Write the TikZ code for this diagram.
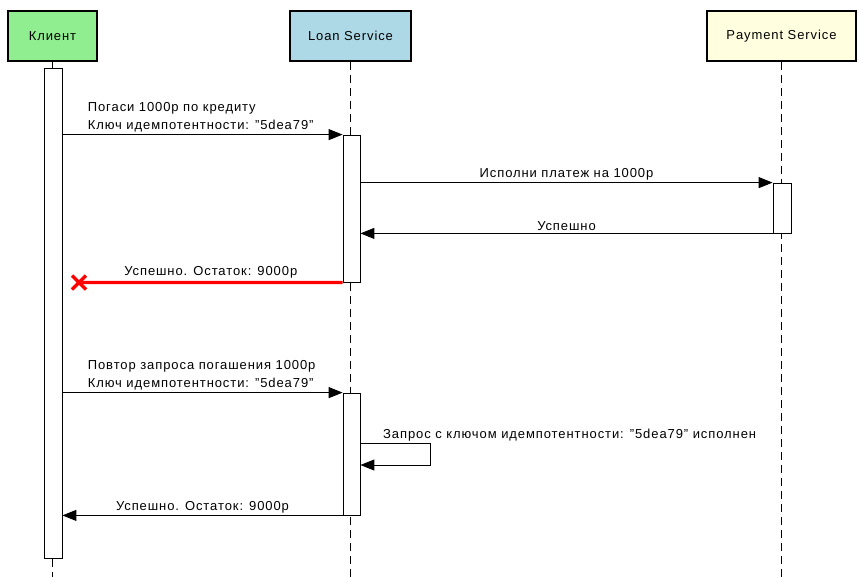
\documentclass[tikz,border=0pt]{standalone}
\usepackage{fontspec}
\setmainfont{Liberation Sans}[LetterSpace=7]
\usepackage{xcolor}
\usetikzlibrary{positioning,arrows.meta}

\definecolor{clientgreen}{HTML}{90EE90}
\definecolor{loanblue}{HTML}{ADD8E6}
\definecolor{payyellow}{HTML}{FFFFE0}
\definecolor{failred}{HTML}{FF0000}

\begin{document}
\begin{tikzpicture}[x=1pt,y=-1pt,
  font=\fontsize{13}{18}\selectfont,
  actor/.style={draw,line width=2pt,minimum height=50pt,inner sep=0pt},
  bar/.style={draw,fill=white,line width=0.8pt,minimum width=17pt,inner sep=0pt},
  life/.style={line width=0.8pt,dash pattern=on 8pt off 5pt},
  msg/.style={-{Triangle[length=14pt,width=11pt]},line width=0.9pt},
  lbl/.style={inner sep=2pt,align=left}]
  \useasboundingbox (0,0) rectangle (866,576);
  % participants
  \node[actor,fill=clientgreen,minimum width=89pt] (client) at (52.5,36) {Клиент};
  \node[actor,fill=loanblue,minimum width=121pt] (loan) at (350.5,36) {Loan Service};
  \node[actor,fill=payyellow,minimum width=149pt] (pay) at (781.5,36) {Payment Service};
  % lifelines
  \draw[line width=0.8pt] (client.south) -- ++(0,8);
  \draw[life] (client.south) ++(0,497) -- ++(0,20);
  \draw[life] (loan.south) -- ++(0,516);
  \draw[life] (pay.south) -- ++(0,516);
  % activation bars
  \node[bar,minimum width=18pt,minimum height=490pt] (cbar) at (53,313) {};
  \node[bar,minimum height=147pt] (lbar1) at (351.5,208.5) {};
  \node[bar,minimum width=18pt,minimum height=50pt] (pbar) at (782,208) {};
  \node[bar,minimum height=122pt] (lbar2) at (351.5,454) {};
  \coordinate (lost) at (79,282.5);
  % messages
  \draw[msg] (cbar.east |- lbar1.north) -- (lbar1.north west)
    node[lbl,pos=0,anchor=south west,xshift=23pt] {Погаси 1000р по кредиту\\Ключ идемпотентности: "5dea79"};
  \draw[msg] (lbar1.east |- pbar.north) -- (pbar.north west)
    node[lbl,midway,above] {Исполни платеж на 1000р};
  \draw[msg] (pbar.south west) -- (lbar1.east |- pbar.south)
    node[lbl,midway,above] {Успешно};
  \draw[failred,line width=3.2pt] (lbar1.south west) -- (lost)
    node[lbl,midway,above,black,yshift=1pt] {Успешно. Остаток: 9000р};
  \draw[failred,line width=3.5pt] (lost) ++(-7,-7) -- ++(14,14)
    (lost) ++(-7,7) -- ++(14,-14);
  \draw[msg] (cbar.east |- lbar2.north) -- (lbar2.north west)
    node[lbl,pos=0,anchor=south west,xshift=23pt] {Повтор запроса погашения 1000р\\Ключ идемпотентности: "5dea79"};
  \draw[msg] (lbar2.east |- 0,443) -- ++(70,0) -- ++(0,22) -- (lbar2.east |- 0,465);
  \node[lbl,anchor=south west] at (381,443) {Запрос с ключом идемпотентности: "5dea79" исполнен};
  \draw[msg] (lbar2.south west) -- (cbar.east |- lbar2.south)
    node[lbl,midway,above] {Успешно. Остаток: 9000р};
\end{tikzpicture}
\end{document}
